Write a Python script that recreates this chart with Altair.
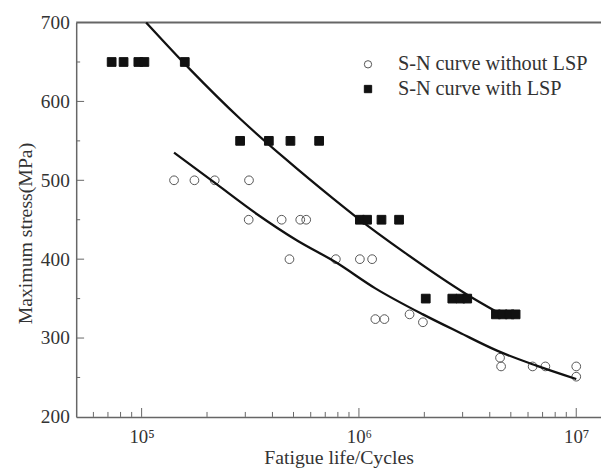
import altair as alt
import pandas as pd

FONT = "Liberation Serif"
SER_WO = "S-N curve without LSP"
SER_W = "S-N curve with LSP"

# S-N data without LSP (open circles)
wo_N = [1.41e5, 1.75e5, 2.17e5, 3.12e5, 3.11e5, 4.41e5, 5.37e5, 5.72e5,
        4.79e5, 7.83e5, 1.01e6, 1.15e6, 1.19e6, 1.31e6, 1.71e6, 1.97e6,
        4.46e6, 4.51e6, 6.30e6, 7.21e6, 1.0e7, 1.0e7]
wo_S = [500, 500, 500, 500, 450, 450, 450, 450,
        400, 400, 400, 400, 324, 324, 330, 320,
        275, 264, 264, 264, 264, 251]

# S-N data with LSP (filled squares)
w_N = [7.28e4, 8.26e4, 9.66e4, 1.03e5, 1.58e5,
       2.84e5, 3.85e5, 4.84e5, 6.56e5,
       1.01e6, 1.09e6, 1.27e6, 1.53e6,
       2.03e6, 2.69e6, 2.93e6, 3.15e6,
       4.27e6, 4.59e6, 4.94e6, 5.26e6]
w_S = [650, 650, 650, 650, 650,
       550, 550, 550, 550,
       450, 450, 450, 450,
       350, 350, 350, 350,
       330, 330, 330, 330]

# fitted curves
fit_w_N = [1.05e5, 1.68e5, 2.84e5, 4.55e5, 7.59e5, 9.66e5, 1.63e6, 3.15e6, 4.32e6]
fit_w_S = [700, 640, 578, 528, 477, 454, 408, 355, 333]
fit_wo_N = [1.41e5, 2.19e5, 3.40e5, 5.17e5, 7.83e5, 1.19e6, 1.97e6, 2.90e6, 4.32e6, 6.56e6, 1.0e7]
fit_wo_S = [535, 496, 457, 424, 396, 363, 330, 307, 284, 265, 248]

# axis ticks
x_major = [1e5, 1e6, 1e7]
x_minor = [6e4, 7e4, 8e4, 9e4, 2e5, 3e5, 4e5, 5e5, 6e5, 7e5, 8e5, 9e5,
           2e6, 3e6, 4e6, 5e6, 6e6, 7e6, 8e6, 9e6]
y_labels = [200, 300, 400, 500, 600, 700]
y_major = [300, 400, 500, 600]
y_minor = [250, 350, 450, 550, 650]

W, H = 531, 399
AX = "#666666"
TXT = "#333333"

pts = pd.DataFrame({
    "N": wo_N + w_N,
    "S": wo_S + w_S,
    "series": [SER_WO] * len(wo_N) + [SER_W] * len(w_N),
})
fit_w = pd.DataFrame({"N": fit_w_N, "S": fit_w_S})
fit_wo = pd.DataFrame({"N": fit_wo_N, "S": fit_wo_S})

x_axis = alt.Axis(
    values=x_major, ticks=False, grid=False, labelFlush=False,
    labelExpr="'10' + (datum.value == 100000 ? '\u2075' : datum.value == 1000000 ? '\u2076' : '\u2077')",
    labelPadding=11, title="Fatigue life/Cycles", titlePadding=1,
    labelFont=FONT, titleFont=FONT, labelFontSize=19, titleFontSize=20,
)
y_axis = alt.Axis(
    values=y_labels, ticks=False, grid=False, labelPadding=7,
    title="Maximum stress(MPa)", titlePadding=5, titleY=213,
    labelFont=FONT, titleFont=FONT, labelFontSize=19.5, titleFontSize=20,
)
x_scale = alt.Scale(type="log", domain=[5e4, 1.3e7], nice=False)
y_scale = alt.Scale(domain=[200, 700], nice=False, zero=False)


def xe():
    return alt.X("N:Q", scale=x_scale, axis=x_axis)


def ye():
    return alt.Y("S:Q", scale=y_scale, axis=y_axis)


points = alt.Chart(pts).mark_point(filled=True, size=78, strokeWidth=1, opacity=1).encode(
    x=xe(), y=ye(),
    shape=alt.Shape("series:N", scale=alt.Scale(domain=[SER_WO, SER_W], range=["circle", "square"]),
                    legend=alt.Legend(title=None, orient="none", legendX=285, legendY=32,
                                      labelFont=FONT, labelFontSize=20.5, labelColor=TXT,
                                      labelLimit=0,
                                      symbolSize=55, symbolStrokeWidth=1, labelOffset=20,
                                      rowPadding=4, padding=0)),
    fill=alt.Fill("series:N", scale=alt.Scale(domain=[SER_WO, SER_W], range=["transparent", "#111111"])),
    stroke=alt.Stroke("series:N", scale=alt.Scale(domain=[SER_WO, SER_W], range=["#555555", "#111111"])),
)

line_w = alt.Chart(fit_w).mark_line(color="#111111", strokeWidth=2.3, interpolate="monotone").encode(x=xe(), y=ye())
line_wo = alt.Chart(fit_wo).mark_line(color="#111111", strokeWidth=2.3, interpolate="monotone").encode(x=xe(), y=ye())

xmaj = alt.Chart(pd.DataFrame({"N": x_major})).mark_rule(color=AX, strokeWidth=1).encode(
    x=xe(), y=alt.value(H), y2=alt.value(H - 9))
xmin = alt.Chart(pd.DataFrame({"N": x_minor})).mark_rule(color=AX, strokeWidth=1).encode(
    x=xe(), y=alt.value(H), y2=alt.value(H - 5))
ymaj = alt.Chart(pd.DataFrame({"S": y_major})).mark_rule(color=AX, strokeWidth=1).encode(
    y=ye(), x=alt.value(0), x2=alt.value(8))
ymin = alt.Chart(pd.DataFrame({"S": y_minor})).mark_rule(color=AX, strokeWidth=1).encode(
    y=ye(), x=alt.value(0), x2=alt.value(4))
top = alt.Chart(pd.DataFrame({"S": [700]})).mark_rule(color=AX, strokeWidth=2).encode(y=ye())

chart = alt.layer(top, xmaj, xmin, ymaj, ymin, points, line_w, line_wo).properties(
    width=W, height=H,
    autosize=alt.AutoSizeParams(type="none"),
    padding={"left": 69, "top": 12, "right": 0, "bottom": 52},
    background="white",
).configure_view(stroke=None).configure_axis(
    domainColor=AX, domainWidth=1.5,
    labelFont=FONT, labelFontSize=19, labelColor=TXT,
    titleFont=FONT, titleFontSize=20, titleColor=TXT, titleFontWeight="normal",
).configure_legend(
    labelFont=FONT, labelFontSize=20.5, labelColor=TXT, labelLimit=0,
)

chart.save("out.html", embed_options={"renderer": "svg", "actions": False})
